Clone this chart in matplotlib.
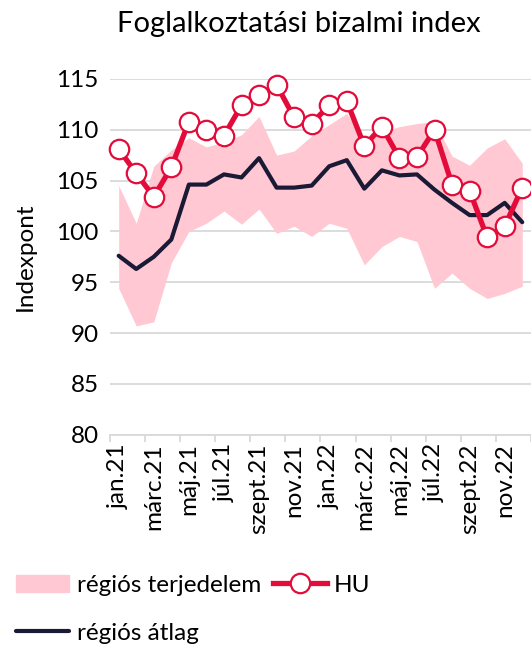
import numpy as np
import matplotlib
matplotlib.use("Agg")
import matplotlib.pyplot as plt
from matplotlib.patches import Patch
from matplotlib.lines import Line2D

plt.rcParams['font.family'] = ['Lato', 'DejaVu Sans']

# --- data ---
months = ["jan.21", "febr.21", "márc.21", "ápr.21", "máj.21", "jún.21",
          "júl.21", "aug.21", "szept.21", "okt.21", "nov.21", "dec.21",
          "jan.22", "febr.22", "márc.22", "ápr.22", "máj.22", "jún.22",
          "júl.22", "aug.22", "szept.22", "okt.22", "nov.22", "dec.22"]
hu = [108.1, 105.7, 103.4, 106.3, 110.8, 110.0, 109.4, 112.4, 113.4, 114.4,
      111.2, 110.6, 112.4, 112.8, 108.4, 110.3, 107.2, 107.3, 110.0, 104.6,
      104.0, 99.4, 100.5, 104.3]
avg = [97.6, 96.3, 97.5, 99.2, 104.6, 104.6, 105.6, 105.3, 107.2, 104.3,
       104.3, 104.5, 106.4, 107.0, 104.2, 106.0, 105.5, 105.6, 104.1, 102.8,
       101.6, 101.6, 102.8, 100.9]
band_hi = [104.5, 100.8, 106.4, 108.0, 109.2, 108.3, 108.8, 109.5, 111.3, 107.5,
           107.9, 109.4, 110.5, 111.6, 109.0, 109.8, 110.3, 110.6, 110.8, 107.4,
           106.5, 108.2, 109.1, 106.7]
band_lo = [94.4, 90.7, 91.1, 96.9, 100.0, 100.8, 102.0, 100.7, 102.2, 99.8,
           100.5, 99.5, 100.8, 100.3, 96.7, 98.5, 99.5, 99.0, 94.4, 95.9,
           94.4, 93.4, 93.9, 94.6]

PINK = '#FFC8D3'
RED = '#E30B3A'
NAVY = '#1B1A36'
FS = 17.5

fig = plt.figure(figsize=(5.31, 6.46), dpi=100)
ax = fig.add_axes([0.207, 0.327, 0.793, 0.551])

x = np.arange(len(months))
ax.fill_between(x, band_lo, band_hi, color=PINK, linewidth=0, zorder=1)
ax.plot(x, avg, color=NAVY, lw=3, zorder=3, solid_capstyle='round')
ax.plot(x, hu, color=RED, lw=3.8, marker='o', ms=14, mfc='white',
        mec=RED, mew=1.6, zorder=4, clip_on=False)

ax.set_xlim(-0.5, len(months) - 0.5)
ax.set_ylim(80, 115)
ax.set_yticks(range(80, 116, 5))
ax.yaxis.grid(True, color='#D9D9D9', lw=1.3)
ax.set_axisbelow(True)
for s in ['top', 'right', 'left']:
    ax.spines[s].set_visible(False)
ax.spines['bottom'].set_color('#D9D9D9')
ax.spines['bottom'].set_linewidth(1.3)

# tick marks between every second category, labels on the category
ax.set_xticks(np.arange(-0.5, len(months), 2))
ax.set_xticklabels([])
ax.tick_params(axis='x', which='major', length=5, color='#D9D9D9', width=1.3)
ax.set_xticks(x[::2], minor=True)
ax.set_xticklabels(months[::2], minor=True, rotation=90, fontsize=FS)
ax.tick_params(axis='x', which='minor', length=0, pad=6)
ax.tick_params(axis='y', length=0, labelsize=FS, pad=8)
ax.set_ylabel('Indexpont', fontsize=FS, labelpad=15)

fig.text(0.562, 0.963, 'Foglalkoztatási bizalmi index', fontsize=21,
         ha='center', va='center')

handles = [Patch(color=PINK),
           Line2D([], [], color=NAVY, lw=3, solid_capstyle='round'),
           Line2D([], [], color=RED, lw=3.8, marker='o', ms=14, mfc='white',
                  mec=RED, mew=1.6)]
labels = ['régiós terjedelem', 'régiós átlag', 'HU']
fig.legend(handles, labels, loc='upper left', bbox_to_anchor=(0.03, 0.11),
           ncol=2, frameon=False, fontsize=FS, handlelength=2.2,
           handletextpad=0.3, columnspacing=0.5, labelspacing=1.1,
           borderaxespad=0, borderpad=0)

fig.savefig('out.png', dpi=100)
